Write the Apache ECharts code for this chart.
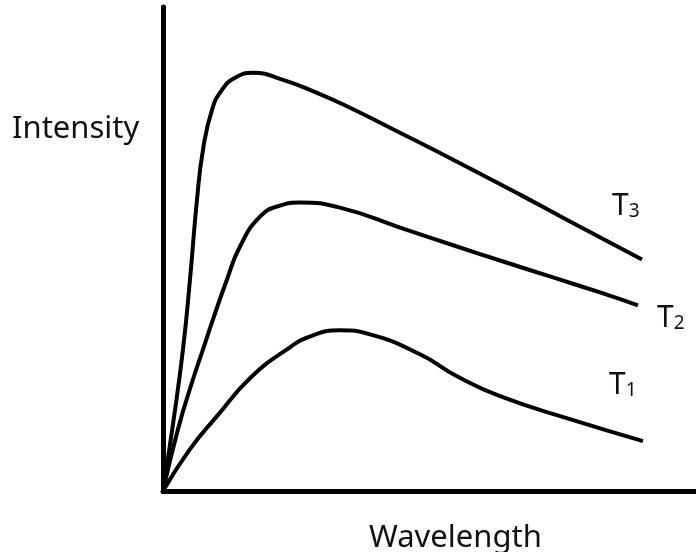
<!DOCTYPE html>
<html>
<head>
<meta charset="utf-8">
<script src="https://cdn.jsdelivr.net/npm/echarts@6/dist/echarts.min.js"></script>
<style>
  html, body { margin: 0; padding: 0; background: #fff; }
  #chart { width: 696px; height: 552px; }
</style>
</head>
<body>
<div id="chart"></div>
<script>
// curves: [wavelength, intensity] in arbitrary units
const t3 = [[0,0],[10,67],[20,142],[27,212],[34,292],[40,342],[49,382],[59,402],[72,414],[90,419],[120,412],[154,399],[187,384],[237,359],[294,330],[357,297],[407,270],[479,232]]
const t2 = [[0,0],[15,62],[30,112],[40,142],[50,172],[64,212],[77,245],[97,275],[117,286],[137,289],[177,284],[237,264],[294,245],[337,231],[390,214],[437,199],[475,186]]
const t1 = [[0,0],[27,42],[54,75],[87,113],[124,142],[150,156],[177,161],[207,157],[257,137],[294,115],[337,95],[407,72],[480,50]]
const seriesNames = ['T3', 'T2', 'T1']
const subscripts = ['3', '2', '1']
const xName = 'Wavelength'
const yName = 'Intensity'

const chart = echarts.init(document.getElementById('chart'))

const font = '"Noto Sans", sans-serif'
const ink = '#111'

const labelOffsets = [[-38, -53], [11, 13], [-42, -56]]

function curve(i, data) {
  return {
    name: seriesNames[i],
    type: 'line',
    data: data,
    smooth: 0.5,
    showSymbol: false,
    silent: true,
    lineStyle: { color: '#000', width: 4 },
    endLabel: {
      show: true,
      formatter: 'T{s|' + subscripts[i] + '}',
      offset: labelOffsets[i],
      color: ink,
      fontFamily: font,
      fontSize: 30,
      lineHeight: 30,
      rich: {
        s: { fontSize: 19, lineHeight: 17, verticalAlign: 'bottom', color: ink, fontFamily: font }
      }
    }
  }
}

const axisLine = { show: true, onZero: true, lineStyle: { color: '#000', width: 5 } }

chart.setOption({
  animation: false,
  grid: { left: 163, right: 0, top: 7, bottom: 61 },
  xAxis: {
    type: 'value', min: 0, max: 533,
    axisLine: axisLine,
    axisTick: { show: false }, axisLabel: { show: false }, splitLine: { show: false }
  },
  yAxis: {
    type: 'value', min: 0, max: 485,
    axisLine: axisLine,
    axisTick: { show: false }, axisLabel: { show: false }, splitLine: { show: false }
  },
  graphic: [
    {
      type: 'text', left: 12, top: 114,
      style: { text: yName, fill: ink, font: '31px ' + font }
    },
    {
      type: 'text', left: 369, top: 523,
      style: { text: xName, fill: ink, font: '31px ' + font }
    }
  ],
  series: [curve(0, t3), curve(1, t2), curve(2, t1)]
})
</script>
</body>
</html>
